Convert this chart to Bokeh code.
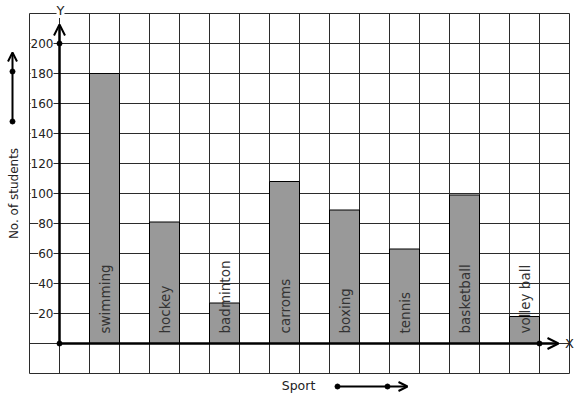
import math
from bokeh.plotting import figure
from bokeh.models import Range1d, Grid, FixedTicker, Arrow, OpenHead, ColumnDataSource
from bokeh.core.properties import value
from bokeh.embed import file_html
from bokeh.resources import INLINE

# ---- data ----
sports = ["swimming", "hockey", "badminton", "carroms", "boxing", "tennis", "basketball", "volley ball"]
students = [180, 81, 27, 108, 89, 63, 99, 18]
y_ticks = [20, 40, 60, 80, 100, 120, 140, 160, 180, 200]
y_tick_labels = ["20", "40", "60", "80", "100", "120", "140", "160", "180", "200"]
x_title = "Sport"
y_title = "No. of students"

# layout helpers (canvas pixel -> data)
def px(x):
    return (x - 59) / 30.0

def py(y):
    return (343 - y) / 1.5

FONT = value("DejaVu Sans")
W, H = 577, 399

p = figure(width=W, height=H,
           x_range=Range1d(px(0), px(W)), y_range=Range1d(py(H), py(0)),
           x_axis_type=None, y_axis_type=None,
           toolbar_location=None, output_backend="svg", min_border=0)
p.outline_line_color = None

# square grid (one cell = 1 x-unit, 20 students)
vgrid = Grid(dimension=0, ticker=FixedTicker(ticks=list(range(-1, 18))),
             grid_line_color="#2b2b2b", grid_line_width=1)
hgrid = Grid(dimension=1, ticker=FixedTicker(ticks=list(range(-20, 221, 20))),
             grid_line_color="#2b2b2b", grid_line_width=1)
vgrid.cross_bounds = (-20, 220)
hgrid.cross_bounds = (-1, 17)
p.add_layout(vgrid)
p.add_layout(hgrid)

# bars
xs = [1.5 + 2 * i for i in range(len(sports))]
src = ColumnDataSource(dict(x=xs, top=students, name=sports))
p.vbar(x="x", top="top", bottom=0, width=1, source=src,
       fill_color="#999999", line_color="black", line_width=1)

# bar labels
p.text(x="x", y=py(333), text="name", source=src, angle=math.pi / 2,
       text_align="left", text_baseline="middle", text_font=FONT,
       text_font_size="13.5px", text_color="#333333")

# axes
p.add_layout(Arrow(x_start=0, y_start=0, x_end=px(558), y_end=0,
                   line_width=2.5, line_color="black",
                   end=OpenHead(size=11, line_width=2, line_color="black")))
p.add_layout(Arrow(x_start=0, y_start=0, x_end=0, y_end=py(24),
                   line_width=2.5, line_color="black",
                   end=OpenHead(size=11, line_width=2, line_color="black")))
p.scatter(x=[0, 0, 16], y=[0, 200, 0], size=5, color="black")

# y tick labels
p.text(x=[px(53)] * len(y_ticks), y=y_ticks, text=y_tick_labels,
       text_align="right", text_baseline="middle", text_font=FONT,
       text_font_size="12px", text_color="#222222",
       background_fill_color="white")

# axis letters
p.text(x=[px(60)], y=[py(10)], text=["Y"], text_align="center", text_baseline="middle",
       text_font=FONT, text_font_size="13px", text_color="#222222",
       background_fill_color="white")
p.text(x=[px(569)], y=[0], text=["X"], text_align="center", text_baseline="middle",
       text_font=FONT, text_font_size="13px", text_color="#222222")

# titles with arrows
p.text(x=[px(13)], y=[py(193)], text=[y_title], angle=math.pi / 2,
       text_align="center", text_baseline="middle", text_font=FONT,
       text_font_size="12px", text_color="#222222")
p.add_layout(Arrow(x_start=px(12), y_start=py(121), x_end=px(12), y_end=py(52),
                   line_width=2, line_color="black",
                   end=OpenHead(size=9, line_width=2, line_color="black")))
p.scatter(x=[px(12), px(12)], y=[py(121), py(71)], size=5, color="black")

p.text(x=[px(298)], y=[py(385)], text=[x_title], text_align="center",
       text_baseline="middle", text_font=FONT, text_font_size="12.5px",
       text_color="#222222")
p.add_layout(Arrow(x_start=px(337), y_start=py(386), x_end=px(407), y_end=py(386),
                   line_width=2, line_color="black",
                   end=OpenHead(size=9, line_width=2, line_color="black")))
p.scatter(x=[px(337), px(387)], y=[py(386), py(386)], size=5, color="black")

open("out.html", "w").write(file_html(p, INLINE))
